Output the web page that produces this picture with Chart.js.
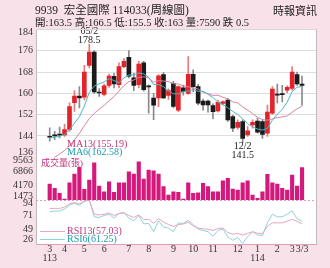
<!DOCTYPE html>
<html><head><meta charset="utf-8">
<script src="https://cdn.jsdelivr.net/npm/chart.js@4.4.1/dist/chart.umd.min.js"></script>
<style>
html,body{margin:0;padding:0;background:#f9e1ea;}
#wrap{position:relative;width:330px;height:268px;overflow:hidden;font-family:'Liberation Serif','Noto Sans CJK TC',serif;}
canvas{position:absolute;left:0;top:0;}
.t{position:absolute;white-space:nowrap;line-height:1;color:#222;}
.ln{position:absolute;height:0;border-top:1px solid;}
</style></head><body>
<div id="wrap">
<canvas id="c" width="330" height="268"></canvas>
<div class="t" style="left:35px;top:5px;font-size:11.5px">9939&nbsp; 宏全國際 114033(周線圖)</div>
<div class="t" style="left:35px;top:17.5px;font-size:10.5px">開:163.5 高:166.5 低:155.5 收:163 量:7590 跌 0.5</div>
<div class="t" style="left:273px;top:6px;font-size:11px">時報資訊</div>
<div class="t" style="left:67px;top:138.5px;font-size:10px;color:#c2357b">MA13(155.19)</div>
<div class="t" style="left:67px;top:147px;font-size:10px;color:#1c9bab">MA6(162.58)</div>
<div class="t" style="left:41px;top:159px;font-size:9px;color:#c8337e">成交量(張)</div>
<div class="ln" style="left:40px;top:231px;width:25px;border-color:#e7a5bf"></div>
<div class="ln" style="left:40px;top:238.5px;width:25px;border-color:#8fd3d6"></div>
<div class="t" style="left:67px;top:226px;font-size:10px;color:#c2357b">RSI13(57.03)</div>
<div class="t" style="left:67px;top:234px;font-size:10px;color:#1c9bab">RSI6(61.25)</div>
</div>
<script>
// ---- data ----
const OPEN  = [143.8,144.2,144.6,144.4,146.4,156.5,159.0,158.5,170.5,175.5,160.5,159.6,163.0,166.4,163.2,170.0,173.5,165.8,163.2,171.4,162.8,158.2,158.3,167.0,159.2,163.7,153.7,162.1,160.0,167.1,162.5,157.1,157.1,155.4,153.4,156.2,157.5,151.3,147.2,149.4,144.4,148.1,149.6,149.4,145.0,152.5,159.5,159.5,161.2,161.8,167.0,163.5];
const HIGH  = [147.0,145.7,147.3,148.3,156.4,161.0,162.5,170.5,178.5,176.0,161.8,163.5,167.2,167.5,171.4,173.0,176.0,167.5,172.0,172.0,163.2,160.0,167.0,167.8,161.7,164.5,162.8,163.1,173.8,168.8,163.4,157.8,157.5,156.0,157.5,157.2,158.0,151.8,150.0,150.0,147.5,150.0,150.6,150.0,155.6,162.5,163.5,163.0,162.8,170.0,168.0,166.5];
const LOW   = [142.0,142.6,143.2,143.8,145.7,153.2,154.5,157.5,169.5,160.0,158.8,159.0,162.2,162.0,162.0,169.5,165.8,161.0,162.0,160.8,152.5,150.1,155.0,158.0,157.7,154.5,153.1,159.3,159.6,160.6,155.6,153.7,152.9,150.5,152.9,155.6,149.4,145.6,146.5,141.5,143.8,146.9,145.0,143.1,143.8,152.1,156.4,156.8,160.2,161.2,163.0,155.5];
const CLOSE = [143.5,144.0,144.3,146.4,155.0,159.0,158.3,168.0,175.5,160.5,160.1,162.8,166.5,163.5,170.0,172.0,166.4,163.0,171.0,161.4,162.4,155.5,166.6,158.3,161.0,155.1,162.5,160.6,167.1,162.5,156.3,155.6,155.6,153.1,156.6,156.8,150.0,146.9,149.1,143.1,145.9,149.1,145.4,144.6,152.9,161.6,159.3,159.5,162.2,168.0,163.5,163.0];
const VOLUME = [4500,3680,2740,1660,4740,6390,7650,3500,5250,8520,4120,3040,4930,2930,4740,4740,6820,6390,8710,5440,7140,7010,6390,3990,2420,3040,2930,1660,4740,2740,2850,4630,3990,3040,3040,5120,5570,3550,3360,4740,5120,2420,1790,3040,6330,4740,4500,3680,3360,6200,4120,7590];
const MA6  = [143.2,143.5,143.9,144.4,146.3,148.8,151.2,155.2,160.4,162.7,163.6,164.2,165.5,164.8,163.9,165.8,166.9,166.9,167.6,167.3,166.0,163.3,163.3,162.5,160.9,159.8,159.8,160.7,160.8,161.5,160.7,160.8,159.6,158.4,156.6,155.7,154.6,153.2,152.1,150.4,148.6,147.4,146.6,146.2,146.8,149.9,152.2,153.9,156.7,160.6,162.3,162.58];
const MA13 = [134.5,136.0,137.2,138.5,140.2,142.5,145.0,147.8,150.5,152.5,154.0,155.5,157.2,158.8,160.8,162.9,164.4,165.0,166.0,166.2,165.8,164.2,164.7,164.6,164.4,163.6,163.5,162.8,162.4,162.1,161.6,160.4,159.9,159.2,159.3,158.5,157.9,156.8,156.4,154.9,153.7,152.4,151.0,150.1,149.9,150.4,150.9,151.1,151.5,152.9,154.2,155.19];
const RSI13 = [81,81,81,83,88,90,88,92,94,72,71,72,74,70,73,74,70,67,71,64,64,58,65,60,56,53,56,57,59.7,54,50.6,49.5,49,46.8,50,50.6,44,41,42.5,39.8,42.5,45,42.5,42,53.2,58.7,58.7,58.7,61.3,64,61,57.03];
const RSI6  = [76,77,77,80,86,89,86,92,94,68,67,70,72,66,73,75,66,62,70,57,58,45,62,52,50.6,45.1,58.7,57.6,62.5,56,49,46.8,45.1,38,46.8,49,37,31.7,36,27,37,45,40,39,58.7,72,68,68,72,77.5,65,61.25];
const PRICE_TICKS  = [136,144,152,160,168,176,184];
const VOLUME_TICKS = [1473,4170,6866,9563];
const RSI_TICKS    = [26,49,71,94];
const MONTH_POS    = [0,3,7,11,16,20,25,29,33,38,42,46,49,51];
const MONTH_LABELS = [['3','113'],'4','5','6','7','8','9','10','11','12',['1','114'],'2','3','3/3'];
const PEAK = {index: 8, date: '05/2'};
const TROUGH = {index: 39, date: '12/2'};

// ---- style ----
const RED = '#e3232b', BLACK = '#1b1b1b', MAG = '#d5187c';
const FONT = "'Liberation Serif','Noto Sans CJK TC',serif";
const EDGE = {p:[1.7,-1.0], v:[756,-530], r:[7,-5.1]};

function edgeTicks(list, nudge){
  return list.map((v,i)=>({value: v + (i===0 ? nudge[0] : i===list.length-1 ? nudge[1] : 0)}));
}
const isUp = i => CLOSE[i] > OPEN[i];

const clipPlugin = {
  id:'panelClip',
  beforeDatasetDraw(chart, args){
    const ys = args.meta.yScale, a = chart.chartArea, ctx = chart.ctx;
    ctx.save(); ctx.beginPath(); ctx.rect(a.left, ys.top, a.right-a.left, ys.bottom-ys.top); ctx.clip();
  },
  afterDatasetDraw(chart){ chart.ctx.restore(); }
};
const framePlugin = {
  id:'frame',
  beforeDraw(chart){
    const {ctx, chartArea:a} = chart;
    ctx.save(); ctx.fillStyle='#fff'; ctx.fillRect(a.left,a.top,a.right-a.left,a.bottom-a.top); ctx.restore();
  },
  afterDraw(chart){
    const {ctx, chartArea:a, scales:s} = chart;
    ctx.save(); ctx.lineWidth=1;
    ctx.strokeStyle='#bdbdbd';
    ctx.beginPath(); ctx.moveTo(Math.round(a.right)+0.5,a.top); ctx.lineTo(Math.round(a.right)+0.5,a.bottom); ctx.stroke();
    const yt = Math.round(s.yP.getPixelForValue(PRICE_TICKS[PRICE_TICKS.length-1]))+0.5;
    ctx.strokeStyle='#d8d8d8';
    ctx.beginPath(); ctx.moveTo(a.left,yt); ctx.lineTo(a.right,yt); ctx.stroke();
    ctx.strokeStyle='#e49ab9'; ctx.setLineDash([2,2]);
    const yv = Math.round(s.yV.bottom)+0.5;
    ctx.beginPath(); ctx.moveTo(a.left,yv); ctx.lineTo(a.right,yv); ctx.stroke();
    ctx.restore();
  },
  afterDatasetsDraw(chart){
    const {ctx, scales:s} = chart;
    ctx.save(); ctx.fillStyle='#222'; ctx.font='10px '+FONT; ctx.textAlign='center'; ctx.textBaseline='alphabetic';
    const px = s.x.getPixelForValue(PEAK.index), py = s.yP.getPixelForValue(HIGH[PEAK.index]);
    ctx.fillText(HIGH[PEAK.index].toFixed(1), px, py-0.7);
    ctx.fillText(PEAK.date, px, py-10.2);
    const tx = s.x.getPixelForValue(TROUGH.index), ty = s.yP.getPixelForValue(LOW[TROUGH.index]);
    ctx.fillText(TROUGH.date, tx, ty+6.5);
    ctx.fillText(LOW[TROUGH.index].toFixed(1), tx, ty+15.5);
    ctx.restore();
  }
};

const yCommon = {
  type:'linear', position:'left', stack:'panels',
  border:{display:true, color:'#bdbdbd'},
  grid:{drawOnChartArea:false, drawTicks:false},
  ticks:{color:'#333', font:{family:FONT, size:10}, padding:3, autoSkip:false},
  afterFit(sc){ sc.width = 36; }
};

new Chart(document.getElementById('c'), {
  type:'bar',
  data:{
    datasets:[
      {label:'MA6', type:'line', yAxisID:'yP', order:1, data:MA6.map((v,i)=>({x:i,y:v})), borderColor:'#4db6c4', borderWidth:1, pointRadius:0, tension:0},
      {label:'MA13', type:'line', yAxisID:'yP', order:1, data:MA13.map((v,i)=>({x:i,y:v})), borderColor:'#d783a6', borderWidth:1, pointRadius:0, tension:0},
      {label:'body', yAxisID:'yP', order:2, grouped:false, barThickness:4, minBarLength:1, borderWidth:0,
        data:OPEN.map((o,i)=>({x:i,y:[o,CLOSE[i]]})), backgroundColor:OPEN.map((o,i)=>isUp(i)?RED:BLACK)},
      {label:'wick', yAxisID:'yP', order:3, grouped:false, barThickness:1, borderWidth:0,
        data:HIGH.map((h,i)=>({x:i,y:[LOW[i],h]})), backgroundColor:OPEN.map((o,i)=>isUp(i)?'#e77b7b':'#8a8a8a')},
      {label:'volume', yAxisID:'yV', order:2, grouped:false, barThickness:3.5, borderWidth:0,
        data:VOLUME.map((v,i)=>({x:i,y:v})), backgroundColor:MAG},
      {label:'RSI13', type:'line', yAxisID:'yR', order:1, data:RSI13.map((v,i)=>({x:i,y:v})), borderColor:'#e7a5bf', borderWidth:1, pointRadius:0, tension:0},
      {label:'RSI6', type:'line', yAxisID:'yR', order:1, data:RSI6.map((v,i)=>({x:i,y:v})), borderColor:'#8fd3d6', borderWidth:1, pointRadius:0, tension:0}
    ]
  },
  options:{
    responsive:false, animation:false, events:[],
    layout:{padding:{top:29.4, right:14, bottom:0, left:0}},
    plugins:{legend:{display:false}, tooltip:{enabled:false}},
    scales:{
      x:{type:'linear', position:'bottom', min:-0.75, max:51.8,
        grid:{drawOnChartArea:false, drawTicks:false},
        border:{display:true, color:'#e49ab9', dash:[2,2]},
        ticks:{color:'#333', font:{family:FONT, size:10, lineHeight:0.9}, padding:1, autoSkip:false, maxRotation:0,
          callback:(v,i)=>MONTH_LABELS[i]},
        afterBuildTicks(sc){ sc.ticks = MONTH_POS.map(v=>({value:v})); },
        afterFit(sc){ sc.height = 24; }
      },
      yR:Object.assign({}, yCommon, {stackWeight:44, min:RSI_TICKS[0], max:RSI_TICKS[RSI_TICKS.length-1],
        ticks:Object.assign({}, yCommon.ticks, {callback:(v,i)=>String(RSI_TICKS[i])}),
        afterBuildTicks(sc){ sc.ticks = edgeTicks(RSI_TICKS, EDGE.r); }}),
      yV:Object.assign({}, yCommon, {stackWeight:42.8, min:VOLUME_TICKS[0], max:VOLUME_TICKS[VOLUME_TICKS.length-1],
        ticks:Object.assign({}, yCommon.ticks, {callback:(v,i)=>String(VOLUME_TICKS[i])}),
        afterBuildTicks(sc){ sc.ticks = edgeTicks(VOLUME_TICKS, EDGE.v); }}),
      yP:Object.assign({}, yCommon, {stackWeight:127.8, min:PRICE_TICKS[0], max:PRICE_TICKS[PRICE_TICKS.length-1],
        grid:{drawOnChartArea:true, drawTicks:false, color:c=>(c.index===0||c.index===PRICE_TICKS.length-1)?'rgba(0,0,0,0)':'#dedede'},
        ticks:Object.assign({}, yCommon.ticks, {callback:(v,i)=>String(PRICE_TICKS[i])}),
        afterBuildTicks(sc){ sc.ticks = edgeTicks(PRICE_TICKS, EDGE.p); }})
    }
  },
  plugins:[clipPlugin, framePlugin]
});
</script>
</body></html>
